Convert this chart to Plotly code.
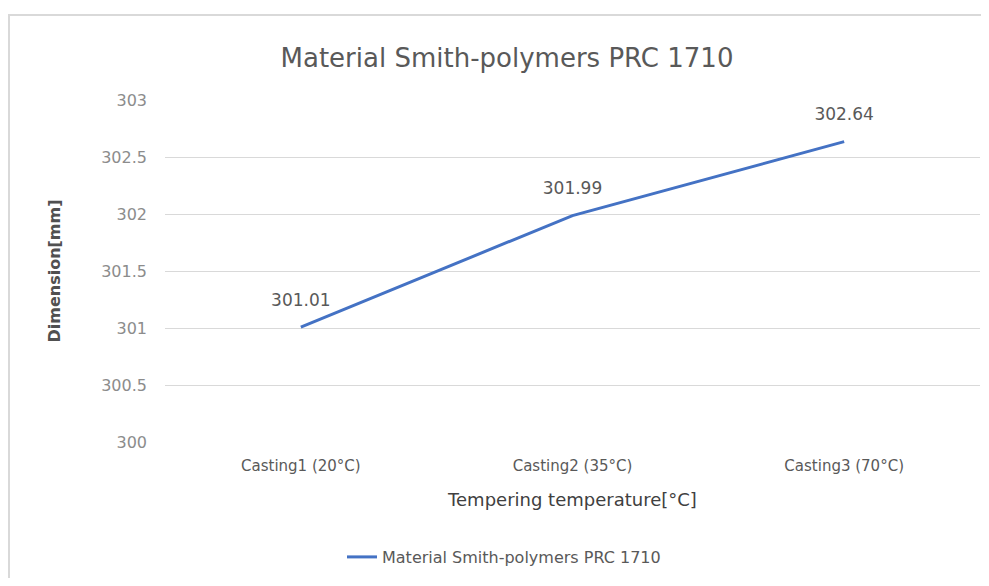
import plotly.graph_objects as go

categories = ["Casting1 (20°C)", "Casting2 (35°C)", "Casting3 (70°C)"]
values = [301.01, 301.99, 302.64]
series_name = "Material Smith-polymers PRC 1710"
y_ticks = [300, 300.5, 301, 301.5, 302, 302.5, 303]

FONT = "DejaVu Sans"
OFF = 8  # browser body margin
W, H = 973, 570
L, R, T, B = 157, 1, 92, 136
pw = W - L - R
ph = H - T - B

def px_x(p):
    return (p - OFF - L) / pw

def px_y(p):
    return (H - B - (p - OFF)) / ph

fig = go.Figure()
fig.add_trace(go.Scatter(
    x=categories, y=values, mode="lines", name=series_name,
    line=dict(color="#4472C4", width=3), showlegend=True,
))
fig.add_trace(go.Scatter(
    x=categories, y=values, mode="markers+text", showlegend=False, hoverinfo="skip",
    marker=dict(size=26, opacity=0),
    text=[f"{v:.2f}" for v in values], textposition="top center",
    textfont=dict(family=FONT, size=17, color="#595959"),
))

fig.update_layout(
    width=W, height=H,
    margin=dict(l=L, r=R, t=T, b=B, autoexpand=False),
    paper_bgcolor="white", plot_bgcolor="white",
    font=dict(family=FONT, color="#595959"),
    title=dict(text="Material Smith-polymers PRC 1710", x=(507 - OFF) / W, xanchor="center",
               y=1 - (58 - OFF) / H, yanchor="middle",
               font=dict(family=FONT, size=26, color="#595959")),
    xaxis=dict(type="category", range=[-0.5, 2.5], showgrid=False, showline=False, zeroline=False,
               tickfont=dict(family=FONT, size=15, color="#595959"),
               ticklabelstandoff=13,
               title=dict(text="Tempering temperature[°C]", standoff=19,
                          font=dict(family=FONT, size=18, color="#404040")),
               automargin=False),
    yaxis=dict(range=[300, 303.006], tickvals=y_ticks,
               ticktext=[f"{t:g}" for t in y_ticks],
               showgrid=True, gridcolor="#d9d9d9", gridwidth=1,
               zeroline=False, showline=False,
               tickfont=dict(family=FONT, size=16, color="#8c8c8c"),
               ticklabelstandoff=17,
               title=dict(text="<b>Dimension[mm]</b>", standoff=36,
                          font=dict(family=FONT, size=16, color="#505050")),
               automargin=False),
    legend=dict(orientation="h", x=px_x(342), xanchor="left", y=px_y(557), yanchor="middle",
                font=dict(family=FONT, size=16, color="#595959"), bgcolor="rgba(0,0,0,0)"),
    shapes=[dict(type="rect", xref="paper", yref="paper",
                 x0=px_x(9), x1=px_x(1000), y0=px_y(600), y1=px_y(15),
                 line=dict(color="#d9d9d9", width=2), fillcolor="rgba(0,0,0,0)", layer="below")],
)

fig.write_html("out.html")
